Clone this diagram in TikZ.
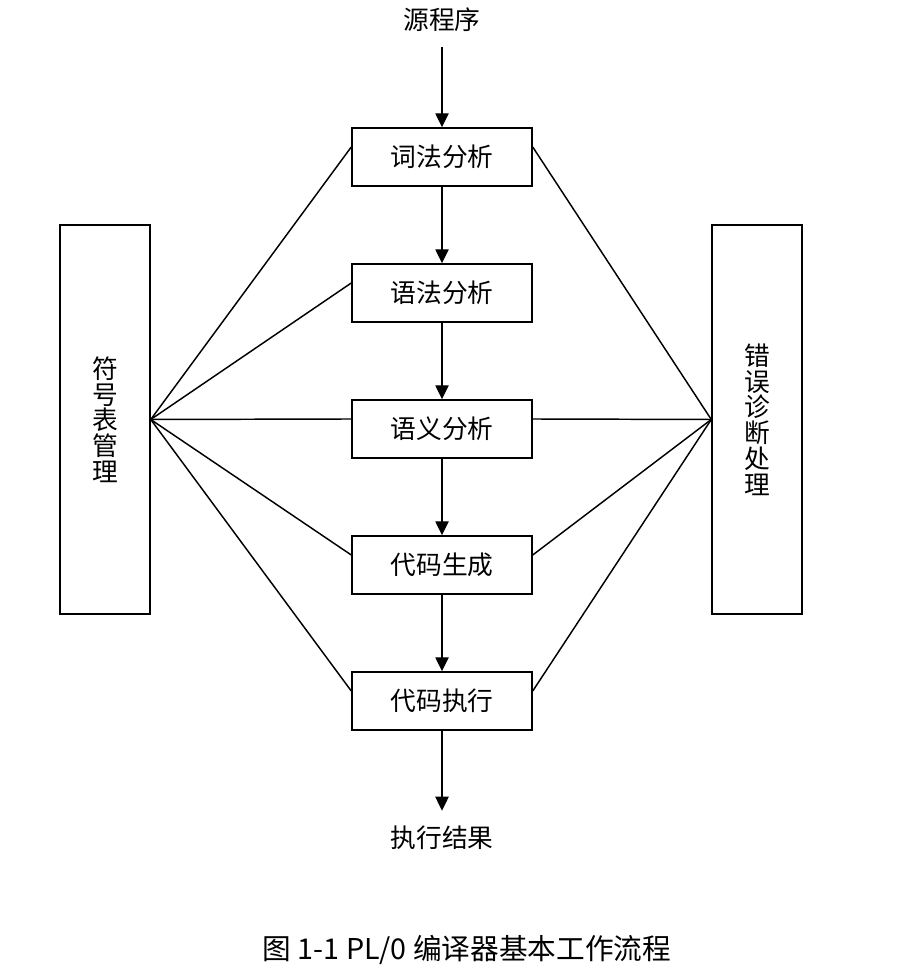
\documentclass[tikz,border=0pt]{standalone}
\usepackage{fontspec}
\setmainfont{Noto Sans CJK SC}
\usetikzlibrary{arrows.meta,positioning}

\begin{document}
\begin{tikzpicture}[
  x=0.75pt, y=0.75pt,
  >={Triangle[length=10.5pt,width=10pt]},
  font=\fontsize{19.3}{19.3}\selectfont,
  node distance=57.4pt,
  line width=1.1pt,
  stage/.style={draw, minimum width=135pt, minimum height=43.5pt, inner sep=0pt},
  side/.style={draw, minimum width=67.5pt, minimum height=291.75pt,
               align=center, inner sep=0pt},
  lbl/.style={inner sep=0pt},
  arr/.style={->},
]
  \useasboundingbox (0,0) rectangle (898,974);

  %% Main column
  \node[lbl] (src) at (442,954) {源程序};
  \node[stage] (lex) at (442,817) {词法分析};
  \node[stage, below=of lex] (syn) {语法分析};
  \node[stage, below=of syn] (sem) {语义分析};
  \node[stage, below=of sem] (gen) {代码生成};
  \node[stage, below=of gen] (run) {代码执行};
  \node[lbl] (res) at (442,136) {执行结果};

  %% Side boxes
  \node[side] (sym) at (105,554.5) {符\\号\\表\\管\\理};
  \node[side] (err) at (757,554.5) {错\\误\\诊\\断\\处\\理};

  %% Caption
  \node[lbl, font=\fontsize{21.5}{21.5}\selectfont] (cap) at (467,24)
    {图 1-1 PL/0 编译器基本工作流程};

  %% Arrows — main path
  \draw[arr, shorten <=11pt] (src) -- (lex);
  \draw[arr] (lex) -- (syn);
  \draw[arr] (syn) -- (sem);
  \draw[arr] (sem) -- (gen);
  \draw[arr] (gen) -- (run);
  \draw[arr, shorten >=11pt] (run) -- (res);

  %% Fan lines to side boxes
  \foreach \b in {lex,syn,sem,gen,run}
    \draw ([yshift=7.5pt]\b.west) -- (sym.east);
  \foreach \b in {lex,sem,gen,run}
    \draw ([yshift=7.5pt]\b.east) -- (err.west);
\end{tikzpicture}
\end{document}
